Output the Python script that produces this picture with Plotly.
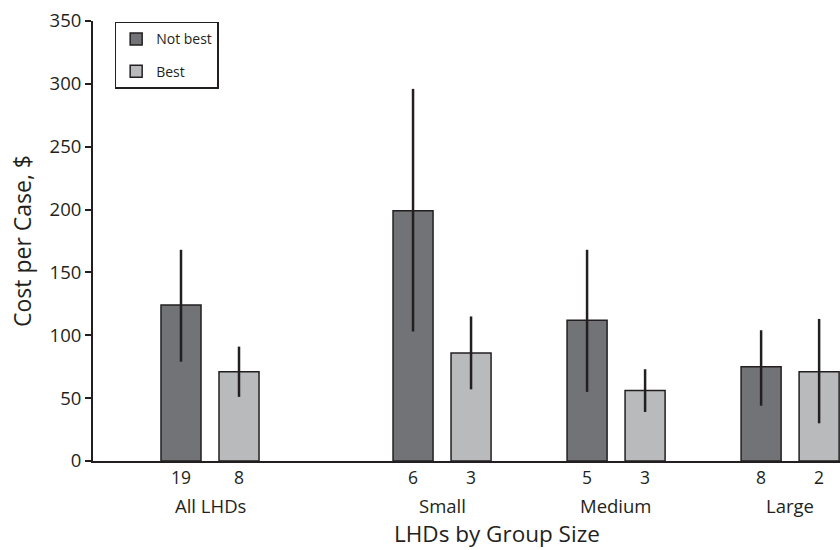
import plotly.graph_objects as go

groups = ["All LHDs", "Small", "Medium", "Large"]
series_names = ["Not best", "Best"]
not_best = [124, 199, 112, 75]
best = [71, 86, 56, 71]
not_best_hi = [168, 296, 168, 104]
not_best_lo = [79, 103, 55, 44]
best_hi = [91, 115, 73, 113]
best_lo = [51, 57, 39, 30]
not_best_n = ["19", "6", "5", "8"]
best_n = ["8", "3", "3", "2"]

# slot positions of the groups on a numeric x axis (extra gap after All LHDs)
group_slots = [0, 4, 7, 10]
x_nb = [g for g in group_slots]
x_b = [g + 1 for g in group_slots]

dark = "#231f20"
fig = go.Figure()
fig.add_trace(go.Bar(
    x=x_nb, y=not_best, name=series_names[0], width=0.69,
    marker=dict(color="#727376", line=dict(color=dark, width=1.5)),
    error_y=dict(type="data", symmetric=False,
                 array=[h - v for h, v in zip(not_best_hi, not_best)],
                 arrayminus=[v - l for v, l in zip(not_best, not_best_lo)],
                 color=dark, thickness=2.5, width=0),
    legendgroup="a",
))
fig.add_trace(go.Bar(
    x=x_b, y=best, name=series_names[1], width=0.69,
    marker=dict(color="#b9babc", line=dict(color=dark, width=1.5)),
    error_y=dict(type="data", symmetric=False,
                 array=[h - v for h, v in zip(best_hi, best)],
                 arrayminus=[v - l for v, l in zip(best, best_lo)],
                 color=dark, thickness=2.5, width=0),
    legendgroup="b",
))

tickvals = []
ticktext = []
for a, b, na, nb in zip(x_nb, x_b, not_best_n, best_n):
    tickvals += [a, b]
    ticktext += [na, nb]

annotations = []
for g, name in zip(group_slots, groups):
    annotations.append(dict(x=g + 0.5, xref="x", y=-0.101, yref="paper",
                            text=name, showarrow=False, xanchor="center", yanchor="middle",
                            font=dict(size=18.5, color=dark)))
annotations.append(dict(x=0.541, xref="paper", y=-0.164, yref="paper",
                        text="LHDs by Group Size", showarrow=False,
                        xanchor="center", yanchor="middle", font=dict(size=22.5, color=dark)))
annotations.append(dict(x=-0.095, xref="paper", y=0.5, yref="paper",
                        text="Cost per Case, $", showarrow=False, textangle=-90,
                        xanchor="center", yanchor="middle", font=dict(size=23, color=dark)))

fig.update_layout(
    width=840, height=550,
    margin=dict(l=93, r=0, t=21, b=89),
    paper_bgcolor="white", plot_bgcolor="white",
    font=dict(family="Open Sans", color=dark, size=17),
    showlegend=True,
    legend=dict(x=0.029, y=0.998, xanchor="left", yanchor="top",
                bordercolor=dark, borderwidth=1.5, bgcolor="white",
                font=dict(size=14), traceorder="grouped", tracegroupgap=11),
    annotations=annotations,
    barmode="overlay",
)
fig.update_xaxes(range=[-1.517, 11.36], tickvals=tickvals, ticktext=ticktext,
                 showline=True, linecolor=dark, linewidth=2, ticks="",
                 showgrid=False, zeroline=False, tickfont=dict(size=17.5))
fig.update_yaxes(range=[0, 350], dtick=50, showline=True, linecolor=dark, linewidth=2,
                 ticks="outside", ticklen=6, tickwidth=1.5, tickcolor=dark,
                 showgrid=False, zeroline=False, tickfont=dict(size=18.5))

fig.write_html("out.html", config={"displayModeBar": False},
               post_script="document.body.style.margin='0';document.body.style.overflow='hidden';")
